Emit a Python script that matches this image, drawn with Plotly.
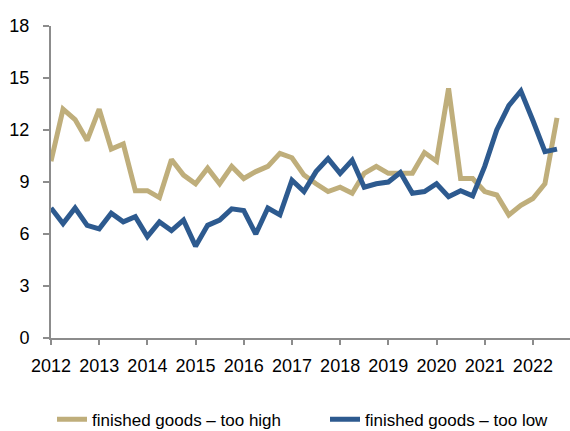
import plotly.graph_objects as go

# Quarterly survey balances, 2012 Q1 - 2022 Q3
quarters = [2012 + i * 0.25 for i in range(43)]

too_high = [10.2, 13.2, 12.6, 11.4, 13.2, 10.9, 11.2, 8.5, 8.5,
            8.1, 10.3, 9.4, 8.9, 9.8, 8.9, 9.9, 9.2, 9.6, 9.9,
            10.65, 10.4, 9.4, 8.9, 8.45, 8.7, 8.35, 9.5, 9.9, 9.5,
            9.5, 9.5, 10.7, 10.2, 14.4, 9.2, 9.2, 8.45, 8.25, 7.1,
            7.65, 8.05, 8.9, 12.7]

too_low = [7.5, 6.6, 7.5, 6.5, 6.3, 7.2, 6.7, 7.0, 5.85,
           6.7, 6.2, 6.8, 5.3, 6.5, 6.8, 7.45, 7.35, 6.0, 7.5,
           7.1, 9.1, 8.45, 9.6, 10.35, 9.5, 10.25, 8.7, 8.9, 9.0,
           9.55, 8.35, 8.45, 8.9, 8.15, 8.5, 8.2, 9.9, 12.0, 13.4,
           14.25, 12.55, 10.75, 10.9]

year_ticks = list(range(2012, 2023))
y_ticks = [0, 3, 6, 9, 12, 15, 18]

TAN = "#BFAE7B"
BLUE = "#2D5A8F"
AXIS = "#8C8C8C"
FONT = "Liberation Sans, Arial, sans-serif"

fig = go.Figure()
fig.add_trace(go.Scatter(x=quarters, y=too_high, mode="lines",
                         name="finished goods \u2013 too high",
                         line=dict(color=TAN, width=5), legend="legend"))
fig.add_trace(go.Scatter(x=quarters, y=too_low, mode="lines",
                         name="finished goods \u2013 too low",
                         line=dict(color=BLUE, width=5), legend="legend2"))

legend_style = dict(orientation="h", xref="container", xanchor="left",
                    y=-0.262, yanchor="middle", font=dict(size=17),
                    itemwidth=30, bgcolor="rgba(0,0,0,0)")

fig.update_layout(
    width=570, height=431,
    margin=dict(l=51, r=0, t=26, b=93, autoexpand=False),
    paper_bgcolor="white", plot_bgcolor="white",
    font=dict(family=FONT, size=18, color="#000000"),
    showlegend=True,
    legend=dict(x=52 / 570, **legend_style),
    legend2=dict(x=325 / 570, **legend_style),
)

fig.update_xaxes(
    range=[2012, 2022.77], tickmode="array", tickvals=year_ticks,
    ticktext=[str(y) for y in year_ticks], tickangle=0,
    showgrid=False, zeroline=False, showline=True, linecolor=AXIS, linewidth=2,
    ticks="outside", ticklen=5, tickwidth=2, tickcolor=AXIS,
    ticklabelstandoff=5,
)
fig.update_yaxes(
    range=[0, 18], tickmode="array", tickvals=y_ticks,
    showgrid=False, zeroline=False, showline=True, linecolor=AXIS, linewidth=2,
    ticks="outside", ticklen=6, tickwidth=2, tickcolor=AXIS,
    ticklabelstandoff=10,
)

fig.write_html("out.html")
